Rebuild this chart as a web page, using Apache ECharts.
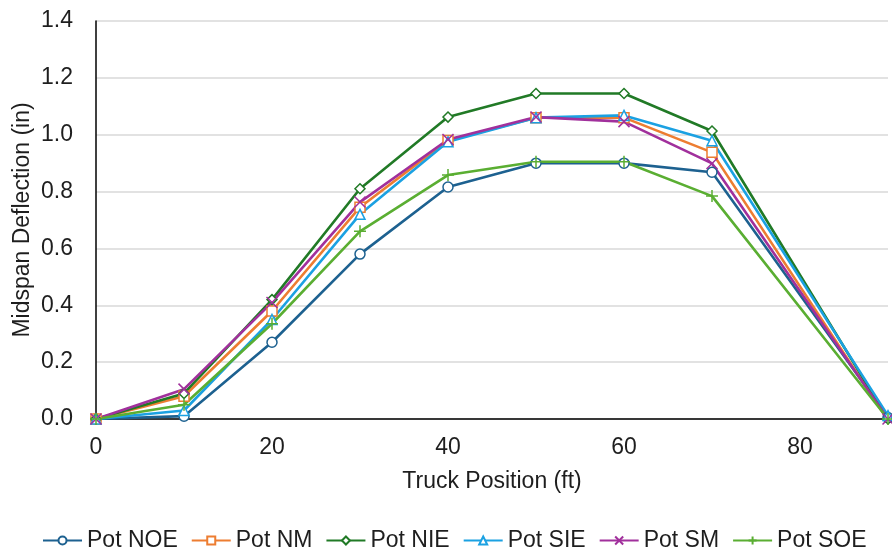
<!DOCTYPE html>
<html><head><meta charset="utf-8">
<script src="https://cdn.jsdelivr.net/npm/echarts@6/dist/echarts.min.js"></script>
<style>html,body{margin:0;padding:0;background:#fff}#c{width:892px;height:552px}</style>
</head><body><div id="c"></div>
<script>
const positions = [0, 10, 20, 30, 40, 50, 60, 70, 90];
const potNOE = [0, 0.01, 0.27, 0.58, 0.816, 0.90, 0.90, 0.868, 0.005];
const potNM  = [0, 0.08, 0.38, 0.745, 0.98, 1.06, 1.06, 0.938, -0.005];
const potNIE = [0, 0.09, 0.42, 0.81, 1.062, 1.145, 1.145, 1.013, 0];
const potSIE = [0, 0.03, 0.35, 0.72, 0.975, 1.06, 1.068, 0.979, 0.012];
const potSM  = [0, 0.105, 0.41, 0.763, 0.983, 1.062, 1.046, 0.899, 0];
const potSOE = [0, 0.05, 0.335, 0.66, 0.858, 0.905, 0.905, 0.784, 0];
const yTicks = [0, 0.2, 0.4, 0.6, 0.8, 1.0, 1.2, 1.4];
const xTicks = [0, 20, 40, 60, 80];

const font = 'Liberation Sans, Arial, sans-serif';
const txt = '#1e1e1e';
const FS = 23;
const xPath = 'path://M0,0 L10,10 M10,0 L0,10';
const plusPath = 'path://M5,0 L5,10 M0,5 L10,5';

function mk(name, data, color, symbol, size, fill) {
  return {
    name, type: 'line',
    data: positions.map((x, i) => [x, data[i]]),
    symbol, symbolSize: size, showAllSymbol: true,
    lineStyle: {color, width: 2.6},
    itemStyle: {color: fill || '#fff', borderColor: color, borderWidth: 1.5},
    color,
    emphasis: {disabled: true},
    animation: false
  };
}

const chart = echarts.init(document.getElementById('c'), null, {renderer: 'canvas'});
chart.setOption({
  animation: false,
  textStyle: {fontFamily: font},
  grid: {left: 96, right: 4, top: 21, bottom: 133, containLabel: false, outerBoundsMode: 'none'},
  xAxis: {
    type: 'value', min: 0, max: 90, interval: 20,
    name: 'Truck Position (ft)', nameLocation: 'middle', nameGap: 51, nameMoveOverlap: false,
    nameTextStyle: {fontSize: FS, color: txt, fontFamily: font},
    axisLine: {show: true, onZero: false, lineStyle: {color: '#000', width: 1.5}},
    axisTick: {show: false},
    splitLine: {show: false},
    axisLabel: {fontSize: FS, color: txt, margin: 17, fontFamily: font,
      formatter: v => xTicks.includes(v) ? String(v) : ''}
  },
  yAxis: {
    type: 'value', min: 0, max: 1.4, interval: 0.2,
    name: 'Midspan Deflection (in)', nameLocation: 'middle', nameGap: 62, nameRotate: 90, nameMoveOverlap: false,
    nameTextStyle: {fontSize: FS, color: txt, fontFamily: font},
    axisLine: {show: true, lineStyle: {color: '#000', width: 1.5}},
    axisTick: {show: false},
    splitLine: {show: true, lineStyle: {color: '#d9d9d9', width: 1.5}},
    axisLabel: {fontSize: FS, color: txt, margin: 23, fontFamily: font,
      formatter: v => { const t = yTicks.find(k => Math.abs(k - v) < 1e-6); return t === undefined ? '' : t.toFixed(1); }}
  },
  legend: {
    top: 524, left: 37, itemWidth: 39, itemHeight: 10, itemGap: 13,
    textStyle: {fontSize: FS, color: txt, fontFamily: font},
    data: ['Pot NOE', 'Pot NM', 'Pot NIE', 'Pot SIE', 'Pot SM', 'Pot SOE']
  },
  series: [
    mk('Pot NOE', potNOE, '#1d6190', 'circle', 10),
    mk('Pot NM', potNM, '#ed7d31', 'rect', 10),
    mk('Pot NIE', potNIE, '#217a26', 'diamond', 10),
    mk('Pot SIE', potSIE, '#1ba1e2', 'triangle', 10),
    mk('Pot SM', potSM, '#a1309c', xPath, 11, '#a1309c'),
    mk('Pot SOE', potSOE, '#5aae32', plusPath, 12, '#5aae32')
  ]
});
</script></body></html>
